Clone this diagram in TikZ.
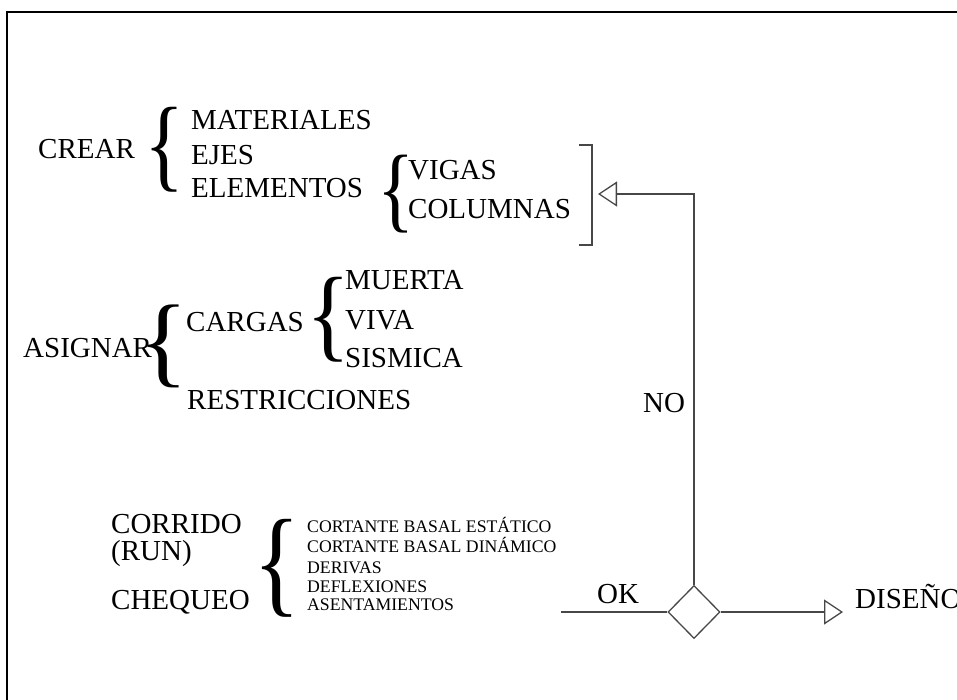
\documentclass[tikz,border=0pt]{standalone}
\usepackage{fontspec}
\setmainfont{Liberation Serif}
\usetikzlibrary{arrows.meta,shapes.geometric}

\tikzset{
    txt/.style={anchor=base west, inner sep=0pt, font=\fontsize{29}{30}\selectfont},
    chico/.style={anchor=base west, inner sep=0pt, font=\fontsize{17.7}{19}\selectfont},
    llave/.style={inner sep=0pt},
    linea/.style={draw=black!72, line width=1.3pt},
    flecha/.style={linea, -{Triangle[open, length=19pt, width=25pt, line width=1.3pt]}},
}
% llave estirada: ancho y alto de la caja
\newcommand{\llave}[2]{\resizebox*{#1}{#2}{\{}}

\begin{document}
\begin{tikzpicture}[x=1pt,y=-1pt]

        \useasboundingbox (0,0) rectangle (957,699);
        \draw[line width=2.2pt] (962,12) -| (7,704);

        \node[txt] (crear) at (38,158) {CREAR};
        \node[llave] (ll1) at (164.5,149.5) {\llave{40pt}{85pt}};
        \node[txt] (mat) at (191,129) {MATERIALES};
        \node[txt] (ejes) at (191,164) {EJES};
        \node[txt] (elem) at (191,197) {ELEMENTOS};
        \node[llave] (ll2) at (396,194) {\llave{37pt}{78pt}};
        \node[txt] (vigas) at (408,179) {VIGAS};
        \node[txt] (col) at (408,218) {COLUMNAS};

        \node[txt] (asig) at (23,357) {ASIGNAR};
        \node[llave] (ll3) at (164,346.5) {\llave{50pt}{83pt}};
        \node[txt] (cargas) at (186,331) {CARGAS};
        \node[llave] (ll4) at (329,319.5) {\llave{44pt}{85pt}};
        \node[txt] (muerta) at (345,289) {MUERTA};
        \node[txt] (viva) at (345,329) {VIVA};
        \node[txt] (sism) at (345,367) {SISMICA};
        \node[txt] (restr) at (187,409) {RESTRICCIONES};

        \node[txt] (corr) at (111,533) {CORRIDO};
        \node[txt] (run) at (111,560) {(RUN)};
        \node[txt] (cheq) at (111,609) {CHEQUEO};
        \node[llave] (ll5) at (277,568) {\llave{47pt}{98pt}};
        \node[chico] (v1) at (307,532) {CORTANTE BASAL ESTÁTICO};
        \node[chico] (v2) at (307,552) {CORTANTE BASAL DINÁMICO};
        \node[chico] (v3) at (307,573) {DERIVAS};
        \node[chico] (v4) at (307,592) {DEFLEXIONES};
        \node[chico] (v5) at (307,610) {ASENTAMIENTOS};

        \node[diamond, aspect=1, inner sep=0pt, minimum width=52pt, minimum height=53pt,
              linea] (rombo) at (694,612) {};
        \coordinate (ini) at (561,612);
        \coordinate (fin) at (843,612);
        \coordinate (pico) at (598,194);
        \coordinate (c1) at (579,145);
        \coordinate (c2) at (579,245);

        \draw[linea] (ini) -- (rombo.west);
        \draw[flecha] (rombo.east) -- (fin);
        \draw[flecha] (rombo.north) |- (pico);
        \draw[linea] (c1) -- ++(13,0) |- (c2);

        \node[txt] (ok) at (597,603) {OK};
        \node[txt] (no) at (643,412) {NO};
        \node[txt] (dis) at (855,608) {DISEÑO};
    \end{tikzpicture}
\end{document}
